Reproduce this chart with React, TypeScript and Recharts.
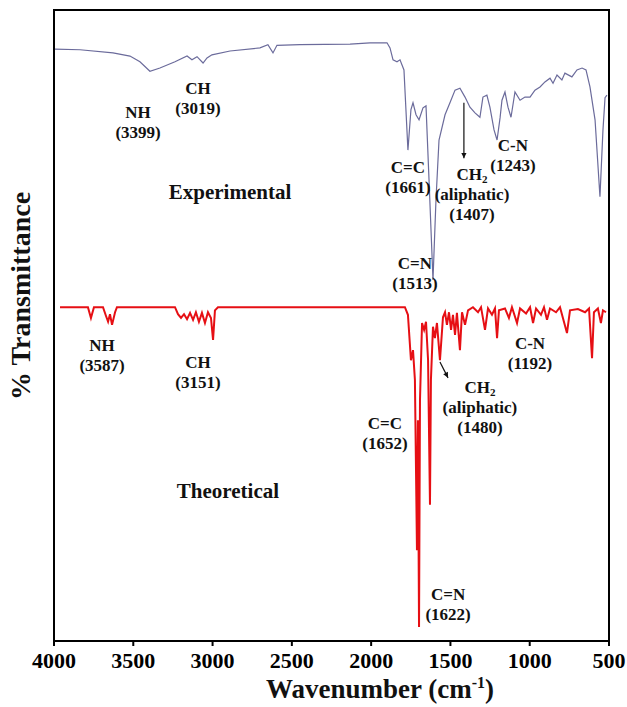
import { Line, LineChart, ReferenceArea, ReferenceDot, ReferenceLine, XAxis, YAxis } from 'recharts';

const SERIF = '"Liberation Serif", "Times New Roman", serif';
const EXP_COLOR = '#6b6b9b';
const THEO_COLOR = '#e60f14';

const WAVENUMBER_TICKS = [4000, 3500, 3000, 2500, 2000, 1500, 1000, 500];

// [wavenumber (cm-1), transmittance (arbitrary units, offset per trace)]
const EXPERIMENTAL: [number, number][] = [
  [3994, 93.8], [3836, 93.7], [3628, 93.2], [3521, 92.7], [3458, 91.8], [3395, 90.3],
  [3332, 90.8], [3237, 91.8], [3161, 92.7], [3130, 92.1], [3098, 92.6], [3060, 91.6],
  [3035, 92.4], [3004, 92.9], [2890, 93.5], [2701, 94.0], [2651, 94.5], [2619, 93.2],
  [2594, 94.4], [2449, 94.5], [2133, 94.6], [2007, 94.8], [1900, 94.8], [1881, 94.0],
  [1862, 92.1], [1837, 91.8], [1818, 92.1], [1793, 90.5], [1768, 77.8], [1749, 84.2],
  [1736, 85.3], [1717, 83.4], [1698, 82.6], [1673, 84.5], [1654, 84.8], [1635, 73.1],
  [1610, 57.2], [1591, 70.0], [1572, 79.4], [1534, 83.4], [1503, 85.3], [1471, 87.3],
  [1440, 87.6], [1408, 86.2], [1377, 84.6], [1345, 83.7], [1314, 83.0], [1295, 86.2],
  [1270, 86.5], [1251, 84.6], [1225, 81.0], [1206, 79.4], [1187, 82.9], [1175, 85.7],
  [1156, 87.0], [1137, 84.6], [1118, 83.0], [1093, 87.0], [1061, 85.7], [1030, 86.2],
  [998, 86.2], [967, 87.3], [935, 87.8], [904, 88.6], [872, 89.2], [853, 88.4],
  [828, 89.7], [797, 88.9], [778, 90.0], [734, 89.4], [702, 90.5], [670, 90.8],
  [645, 90.5], [620, 87.8], [588, 82.6], [557, 70.4], [538, 81.0], [525, 86.1], [513, 86.5],
];

const THEORETICAL: [number, number][] = [
  [3962, 52.9], [3786, 52.9], [3767, 51.2], [3748, 52.9], [3691, 52.9], [3672, 51.5],
  [3659, 50.6], [3647, 51.8], [3634, 50.1], [3615, 52.1], [3603, 52.9], [3237, 52.9],
  [3218, 51.8], [3199, 51.2], [3180, 51.8], [3161, 51.0], [3142, 52.0], [3123, 50.9],
  [3105, 52.1], [3086, 50.6], [3067, 52.0], [3048, 50.4], [3029, 52.1], [3010, 51.2],
  [2997, 47.7], [2985, 52.4], [2966, 52.9], [1787, 52.9], [1768, 51.7], [1749, 44.5],
  [1736, 46.1], [1724, 41.4], [1711, 14.4], [1705, 35.0], [1698, 2.2], [1692, 38.2],
  [1679, 50.4], [1666, 49.3], [1654, 50.6], [1641, 44.5], [1629, 21.6], [1623, 41.4],
  [1610, 49.8], [1598, 48.0], [1585, 50.4], [1566, 44.5], [1547, 51.3], [1534, 52.1],
  [1522, 50.1], [1509, 52.1], [1496, 49.3], [1484, 51.7], [1471, 48.5], [1459, 52.0],
  [1440, 46.1], [1427, 52.1], [1408, 50.1], [1389, 52.4], [1358, 52.9], [1326, 52.1],
  [1307, 52.9], [1282, 49.3], [1263, 52.7], [1238, 51.7], [1219, 52.7], [1206, 48.0],
  [1194, 52.4], [1156, 52.7], [1131, 51.2], [1112, 52.9], [1080, 50.4], [1061, 52.7],
  [1023, 51.9], [998, 52.9], [979, 50.4], [960, 52.7], [929, 51.7], [910, 52.9],
  [891, 50.9], [872, 52.7], [834, 52.1], [809, 52.9], [765, 48.8], [746, 52.4],
  [696, 52.6], [651, 52.1], [626, 52.7], [607, 44.8], [595, 52.1], [570, 52.7],
  [551, 50.4], [538, 52.4], [519, 52.1],
];

type Note = { wn: number; t: number; lines: string[]; size?: number };

// Peak assignments; "_" marks a subscript
const EXPERIMENTAL_NOTES: Note[] = [
  { wn: 3470, t: 83.8, lines: ['NH', '(3399)'] },
  { wn: 3092, t: 87.6, lines: ['CH', '(3019)'] },
  { wn: 1768, t: 75.0, lines: ['C=C', '(1661)'] },
  { wn: 1364, t: 73.9, lines: ['CH_2', '(aliphatic)', '(1407)'] },
  { wn: 1106, t: 78.6, lines: ['C-N', '(1243)'] },
  { wn: 1724, t: 59.9, lines: ['C=N', '(1513)'] },
  { wn: 2890, t: 71.2, lines: ['Experimental'], size: 21 },
];

const THEORETICAL_NOTES: Note[] = [
  { wn: 3697, t: 46.9, lines: ['NH', '(3587)'] },
  { wn: 3092, t: 44.2, lines: ['CH', '(3151)'] },
  { wn: 998, t: 47.2, lines: ['C-N', '(1192)'] },
  { wn: 1314, t: 40.1, lines: ['CH_2', '(aliphatic)', '(1480)'] },
  { wn: 1913, t: 34.5, lines: ['C=C', '(1652)'] },
  { wn: 1515, t: 7.3, lines: ['C=N', '(1622)'] },
  { wn: 2903, t: 23.8, lines: ['Theoretical'], size: 21 },
];

const ARROWS: { from: [number, number]; to: [number, number] }[] = [
  { from: [1415, 85.3], to: [1415, 76.5] },
  { from: [1566, 44.2], to: [1515, 41.7] },
];

function NoteText(props: { cx: number; cy: number; lines: string[]; size: number }) {
  const { cx, cy, lines, size } = props;
  return (
    <g>
      {lines.map((line, i) => {
        const [main, sub] = line.split('_');
        return (
          <text
            key={i}
            x={cx}
            y={cy + i * 20}
            textAnchor="middle"
            dominantBaseline="central"
            fill="#111"
            fontFamily={SERIF}
            fontSize={size}
            fontWeight={700}
          >
            {main}
            {sub && (
              <tspan fontSize={size * 0.65} dy={4}>
                {sub}
              </tspan>
            )}
          </text>
        );
      })}
    </g>
  );
}

function Arrow(props: { x1?: number; y1?: number; x2?: number; y2?: number }) {
  const { x1 = 0, y1 = 0, x2 = 0, y2 = 0 } = props;
  const angle = Math.atan2(y2 - y1, x2 - x1);
  const len = 6;
  const spread = 0.45;
  const a = [x2 - len * Math.cos(angle - spread), y2 - len * Math.sin(angle - spread)];
  const b = [x2 - len * Math.cos(angle + spread), y2 - len * Math.sin(angle + spread)];
  return (
    <g>
      <line x1={x1} y1={y1} x2={x2} y2={y2} stroke="#111" strokeWidth={1.2} />
      <polygon points={`${x2},${y2} ${a[0]},${a[1]} ${b[0]},${b[1]}`} fill="#111" />
    </g>
  );
}

export default function App() {
  const experimental = EXPERIMENTAL.map(([wn, t]) => ({ wn, t }));
  const theoretical = THEORETICAL.map(([wn, t]) => ({ wn, t }));
  const notes = [...EXPERIMENTAL_NOTES, ...THEORETICAL_NOTES];

  return (
    <div style={{ position: 'absolute', left: 0, top: 0, width: 627, height: 707, background: '#fff' }}>
      <LineChart width={627} height={707} margin={{ top: 10, right: 18, bottom: 36, left: 54 }}>
        <XAxis
          allowDataOverflow
          axisLine={{ stroke: '#000', strokeWidth: 2 }}
          dataKey="wn"
          domain={[500, 4000]}
          height={30}
          interval={0}
          reversed
          tick={{ fill: '#000', fontFamily: SERIF, fontSize: 22, fontWeight: 700 }}
          tickLine={{ stroke: '#000', strokeWidth: 2 }}
          tickMargin={6}
          tickSize={5}
          ticks={WAVENUMBER_TICKS}
          type="number"
        />
        <YAxis domain={[0, 100]} hide type="number" />
        <ReferenceArea
          fill="#fff"
          fillOpacity={0}
          stroke="#000"
          strokeWidth={2}
          x1={500}
          x2={4000}
          y1={0}
          y2={100}
        />
        <Line
          data={experimental}
          dataKey="t"
          dot={false}
          isAnimationActive={false}
          stroke={EXP_COLOR}
          strokeWidth={1.2}
          type="linear"
        />
        <Line
          data={theoretical}
          dataKey="t"
          dot={false}
          isAnimationActive={false}
          stroke={THEO_COLOR}
          strokeWidth={2}
          type="linear"
        />
        {ARROWS.map((arrow, i) => (
          <ReferenceLine
            key={`arrow-${i}`}
            segment={[
              { x: arrow.from[0], y: arrow.from[1] },
              { x: arrow.to[0], y: arrow.to[1] },
            ]}
            shape={(p: any) => <Arrow {...p} />}
          />
        ))}
        {notes.map((note, i) => (
          <ReferenceDot
            key={`note-${i}`}
            r={0}
            shape={(p: any) => <NoteText cx={p.cx} cy={p.cy} lines={note.lines} size={note.size ?? 17} />}
            x={note.wn}
            y={note.t}
          />
        ))}
      </LineChart>
      <svg
        height={707}
        style={{ position: 'absolute', left: 0, top: 0, pointerEvents: 'none' }}
        width={627}
      >
        <text
          fill="#111"
          fontFamily={SERIF}
          fontSize={28}
          fontWeight={700}
          textAnchor="middle"
          transform="translate(30, 296) rotate(-90)"
        >
          % Transmittance
        </text>
        <text fill="#111" fontFamily={SERIF} fontSize={27} fontWeight={700} textAnchor="middle" x={380} y={698}>
          Wavenumber (cm
          <tspan dy={-10} fontSize={16}>
            -1
          </tspan>
          <tspan dy={10}>)</tspan>
        </text>
      </svg>
    </div>
  );
}
